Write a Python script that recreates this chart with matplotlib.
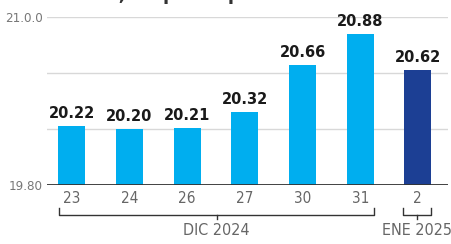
import matplotlib
matplotlib.use("Agg")
import matplotlib.pyplot as plt
from matplotlib.transforms import blended_transform_factory

days = ["23", "24", "26", "27", "30", "31", "2"]
values = [20.22, 20.20, 20.21, 20.32, 20.66, 20.88, 20.62]
colors = ["#00aeef"] * 6 + ["#1c3f94"]
groups = [("DIC 2024", 0, 5), ("ENE 2025", 6, 6)]
ytick_vals = [19.8, 21.0]
ytick_labels = ["19.80", "21.0.0"]
grid_vals = [20.2, 20.6, 21.0]

fig = plt.figure(figsize=(4.51, 2.44), dpi=100)
ax = fig.add_axes([0.104, 0.242, 0.889, 0.688])

x = list(range(len(values)))
ax.bar(x, [v - 19.8 for v in values], bottom=19.8, width=0.47, color=colors, zorder=3)
for xi, v in zip(x, values):
    ax.text(xi, v + 0.035, f"{v:.2f}", ha="center", va="bottom", fontsize=10.5,
            fontweight="bold", color="#1a1a1a", zorder=4)

for g in grid_vals:
    ax.axhline(g, color="#d8d8d8", lw=1, zorder=1)
ax.axhline(19.8, color="#333333", lw=1.3, zorder=5)

ax.set_ylim(19.8, 21.0)
ax.set_xlim(-0.433, 6.52)
ax.set_yticks(ytick_vals)
ax.set_yticklabels(ytick_labels, fontsize=9.5, color="#777777", fontstretch="condensed")
ax.set_xticks(x)
ax.set_xticklabels(days, fontsize=11, color="#666666", fontstretch="condensed")
ax.tick_params(axis="both", length=0, pad=3)
ax.tick_params(axis="x", pad=4)
for s in ax.spines.values():
    s.set_visible(False)

# brackets under the day labels
tr = blended_transform_factory(ax.transData, ax.transAxes)
for name, i0, i1 in groups:
    x0 = i0 - 0.22
    x1 = i1 + 0.24
    if i0 == i1:
        x0, x1 = i0 - 0.25, i1 + 0.22
    xm = (x0 + x1) / 2
    ax.plot([x0, x0, x1, x1], [-0.137, -0.179, -0.179, -0.137], transform=tr,
            color="#333333", lw=1, clip_on=False)
    ax.plot([xm, xm], [-0.179, -0.205], transform=tr, color="#333333", lw=1, clip_on=False)
    ax.text(xm, -0.225, name, transform=tr, ha="center", va="top", fontsize=11.5,
            color="#666666", fontstretch="condensed", clip_on=False)

fig.text(0.0, 1.02, "Dólar diario, en pesos por dólar", ha="left", va="center",
         fontsize=13, fontweight="bold", color="#333333")

fig.savefig("out.png", dpi=100)
